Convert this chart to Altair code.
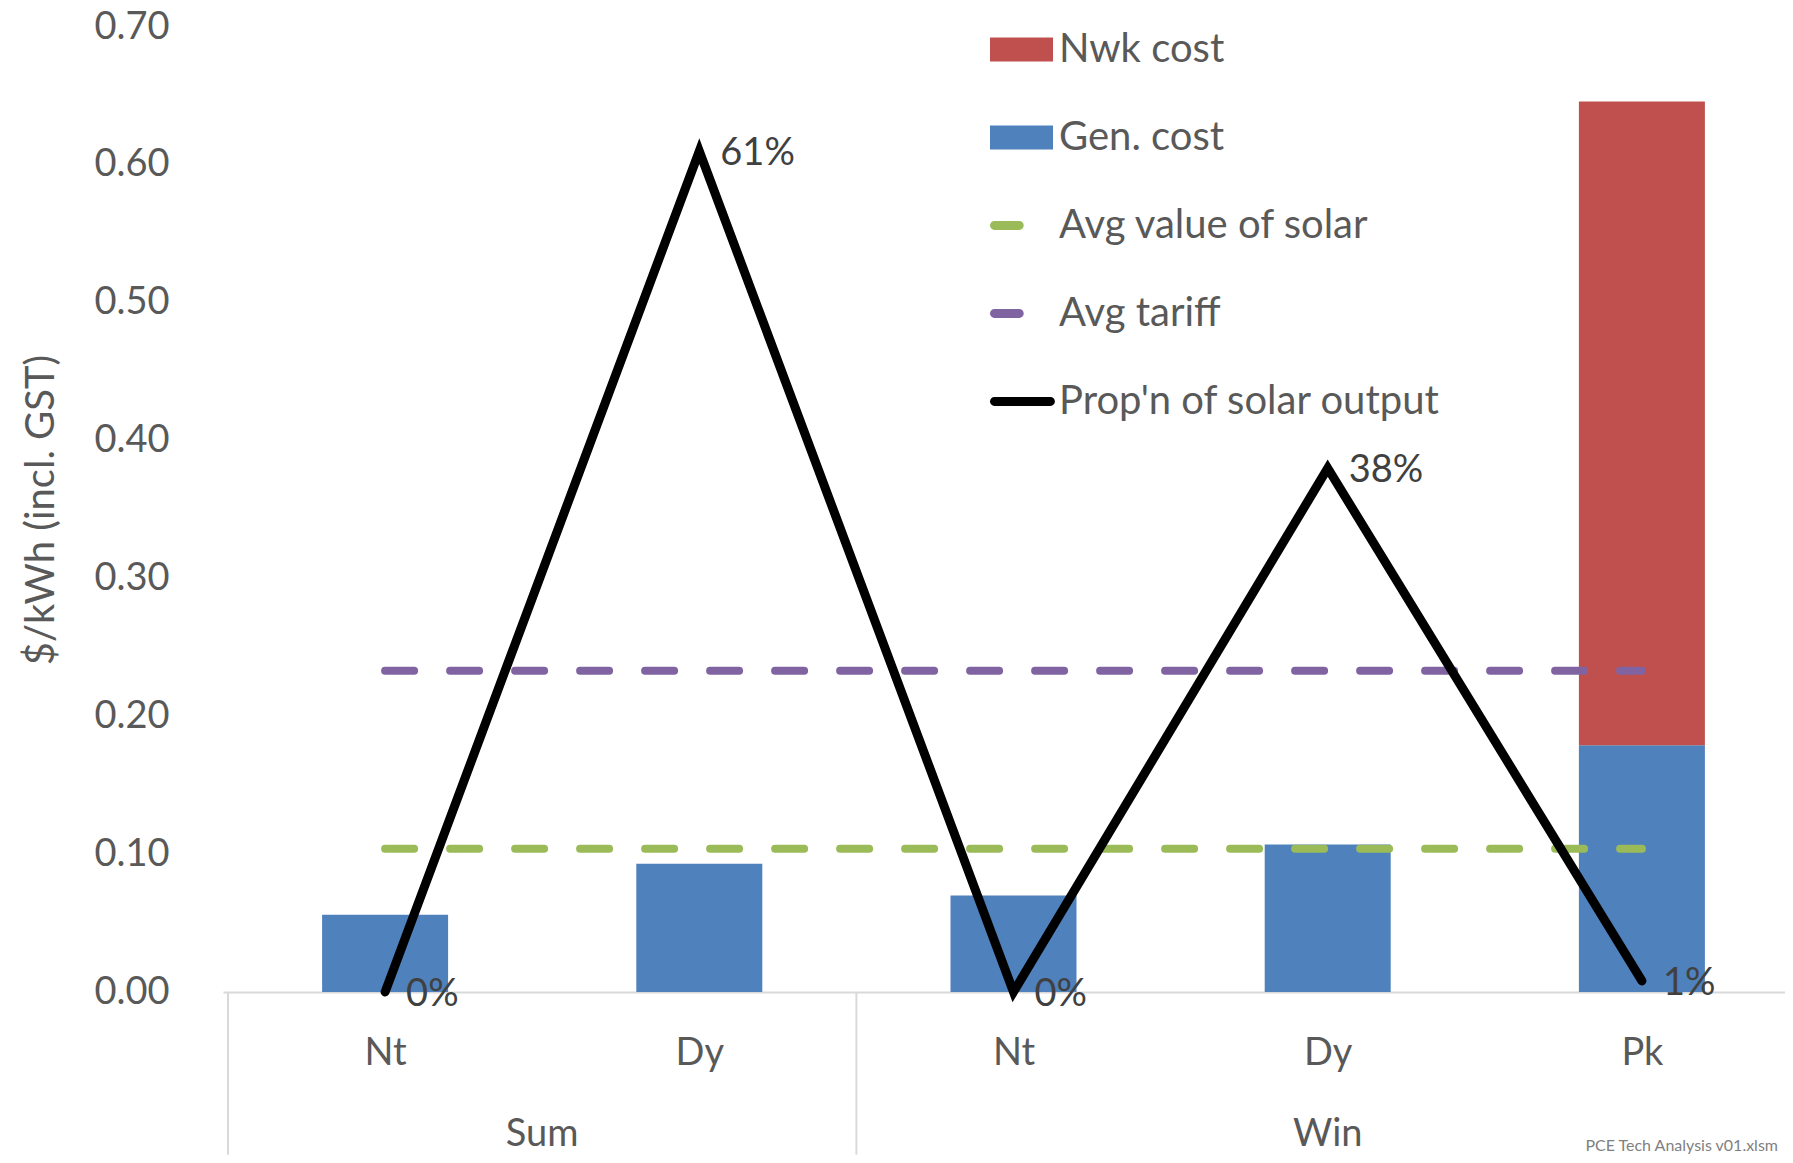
import altair as alt
import pandas as pd

# ---- data ----
periods = ["Nt", "Dy", "Nt", "Dy", "Pk"]
seasons = ["Sum", "Sum", "Win", "Win", "Win"]
gen_cost = [0.056, 0.093, 0.070, 0.107, 0.179]
nwk_cost = [0.0, 0.0, 0.0, 0.0, 0.467]
solar_share = [0.0, 0.61, 0.0, 0.38, 0.008]
avg_solar_value = 0.104
avg_tariff = 0.233
y_ticks = [0.0, 0.1, 0.2, 0.3, 0.4, 0.5, 0.6, 0.7]
series_names = ["Nwk cost", "Gen. cost", "Avg value of solar", "Avg tariff", "Prop'n of solar output"]
series_colors = ["#C0504D", "#4F81BD", "#9BBB59", "#8064A2", "#000000"]
source_note = "PCE Tech Analysis v01.xlsm"

FONT = "Lato"
GREY = "#595959"
idx = list(range(len(periods)))

# ---- tables ----
bars = []
for i in idx:
    bars.append({"x": i, "y0": 0.0, "y1": gen_cost[i], "fill": series_colors[1]})
    if nwk_cost[i] > 0:
        bars.append({"x": i, "y0": gen_cost[i], "y1": gen_cost[i] + nwk_cost[i], "fill": series_colors[0]})
bars_df = pd.DataFrame(bars)

share_df = pd.DataFrame({"x": idx, "share": solar_share})
avg_df = pd.DataFrame({
    "x": [min(idx)] * 2, "x2": [max(idx)] * 2,
    "y": [avg_solar_value, avg_tariff],
    "c": [series_colors[2], series_colors[3]],
})

season_names = list(dict.fromkeys(seasons))
season_df = pd.DataFrame({
    "season": season_names,
    "x": [sum(i for i in idx if seasons[i] == s) / seasons.count(s) for s in season_names],
    "y": [0.0] * len(season_names),
})
bounds = [min(idx) - 0.5] + [i + 0.5 for i in idx[:-1] if seasons[i] != seasons[i + 1]] + [max(idx) + 0.5]
sep_df = pd.DataFrame({"x": bounds, "y": [0.0] * len(bounds), "y2": [-0.118] * len(bounds)})
note_df = pd.DataFrame({"x": [max(idx) + 0.5], "y": [0.0], "t": [source_note]})
legend_df = pd.DataFrame({"series": series_names, "x": [0] * len(series_names), "y": [-1.0] * len(series_names)})

# the source chart runs slightly past the right edge of the picture
xscale = alt.Scale(domain=[min(idx) - 0.5, max(idx) + 0.5], nice=False, zero=False, range=[0, 1581])
yscale = alt.Scale(domain=[0, 0.7], nice=False)

label_expr = "[" + ",".join("'" + p + "'" for p in periods) + "][datum.value]"

x_axis = alt.Axis(values=idx, labelExpr=label_expr, grid=False, ticks=False, tickSize=0,
                  domainColor="#D9D9D9", domainWidth=2, labelPadding=61, labelBaseline="middle",
                  labelFont=FONT, labelFontSize=38, labelColor=GREY, labelFlush=False,
                  labelOverlap=False, title=None)
y_axis = alt.Axis(values=y_ticks, format=".2f", grid=False, ticks=False, tickSize=0, domain=False,
                  labelPadding=54, labelFont=FONT, labelFontSize=38, labelColor=GREY,
                  title="$/kWh (incl. GST)", titleFont=FONT, titleFontSize=40,
                  titleFontWeight="normal", titleColor=GREY, titlePadding=32)

bar_layer = alt.Chart(bars_df).mark_bar(size=126).encode(
    x=alt.X("x:Q", scale=xscale, axis=x_axis),
    y=alt.Y("y0:Q", scale=yscale, axis=y_axis),
    y2="y1:Q",
    color=alt.Color("fill:N", scale=None),
)

sep_layer = alt.Chart(sep_df).mark_rule(color="#D9D9D9", strokeWidth=2).encode(
    x=alt.X("x:Q", scale=xscale), y=alt.Y("y:Q", scale=yscale), y2="y2:Q")

avg_layer = alt.Chart(avg_df).mark_rule(strokeWidth=8, strokeDash=[29, 36], strokeCap="round").encode(
    x=alt.X("x:Q", scale=xscale), x2="x2:Q", y=alt.Y("y:Q", scale=yscale),
    color=alt.Color("c:N", scale=None))

line_layer = alt.Chart(share_df).mark_line(color="#000000", strokeWidth=9, strokeCap="round",
                                          strokeJoin="miter").encode(
    x=alt.X("x:Q", scale=xscale), y=alt.Y("share:Q", scale=yscale))

label_layer = alt.Chart(share_df).mark_text(align="left", baseline="middle", dx=21, dy=3,
                                           font=FONT, fontSize=38, color="#404040").encode(
    x=alt.X("x:Q", scale=xscale), y=alt.Y("share:Q", scale=yscale),
    text=alt.Text("share:Q", format=".0%"))

season_layer = alt.Chart(season_df).mark_text(baseline="middle", dy=143, font=FONT, fontSize=38,
                                             color=GREY).encode(
    x=alt.X("x:Q", scale=xscale), y=alt.Y("y:Q", scale=yscale), text="season:N")

note_layer = alt.Chart(note_df).mark_text(align="right", baseline="middle", dx=-21, dy=154, font=FONT,
                                         fontSize=16, color="#7F7F7F").encode(
    x=alt.X("x:Q", scale=xscale), y=alt.Y("y:Q", scale=yscale), text="t:N")

shape_paths = [
    "M-1,-0.38H1V0.38H-1Z",
    "M-1,-0.38H1V0.38H-1Z",
    "M-0.86,-0.14H-0.07A0.14,0.14 0 0 1 -0.07,0.14H-0.86A0.14,0.14 0 0 1 -0.86,-0.14Z",
    "M-0.86,-0.14H-0.07A0.14,0.14 0 0 1 -0.07,0.14H-0.86A0.14,0.14 0 0 1 -0.86,-0.14Z",
    "M-0.86,-0.14H0.92A0.14,0.14 0 0 1 0.92,0.14H-0.86A0.14,0.14 0 0 1 -0.86,-0.14Z",
]
leg = alt.Legend(orient="none", legendX=767, legendY=-9, title=None, labelFont=FONT,
                 labelFontSize=40, labelColor=GREY, labelLimit=0, symbolSize=3969,
                 symbolStrokeWidth=0, rowPadding=36, labelOffset=6, padding=0)
legend_layer = alt.Chart(legend_df).mark_point(filled=True, clip=True, opacity=1).encode(
    x=alt.X("x:Q", scale=xscale), y=alt.Y("y:Q", scale=yscale),
    color=alt.Color("series:N", scale=alt.Scale(domain=series_names, range=series_colors), legend=leg),
    shape=alt.Shape("series:N", scale=alt.Scale(domain=series_names, range=shape_paths), legend=leg),
)

chart = alt.layer(
    sep_layer, bar_layer, avg_layer, line_layer, label_layer, season_layer, note_layer, legend_layer
).properties(
    width=1562, height=965,
    padding={"left": 215, "top": 19, "right": 0, "bottom": 163},
    autosize=alt.AutoSizeParams(type="none"),
    background="white",
).configure_view(stroke=None)

chart.save("out.html", embed_options={"renderer": "svg", "actions": False})
